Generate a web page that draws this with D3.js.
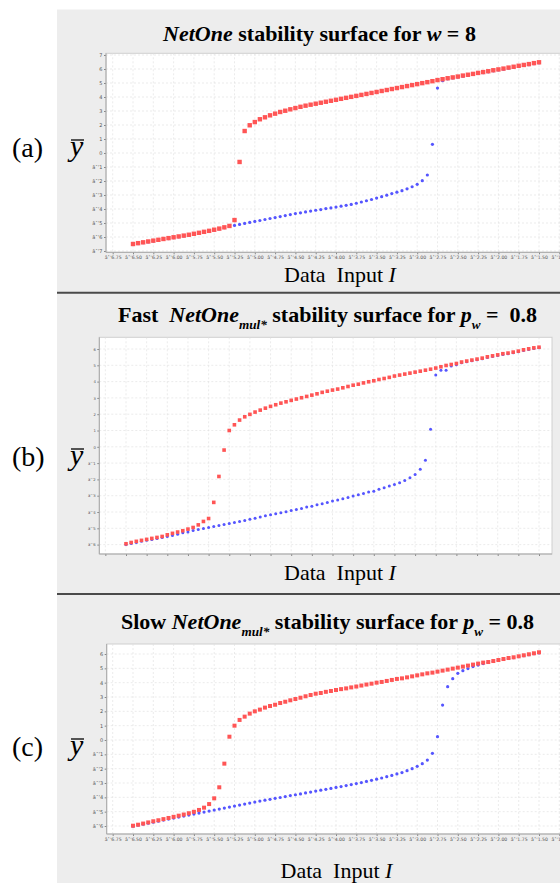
<!DOCTYPE html>
<html>
  <head>
    <title>NetOne stability surfaces</title>
    <style>
      body { margin: 0; background: #fff; }
      text { white-space: pre; }
    </style>
  </head>
  <body>
    <script src="https://cdn.jsdelivr.net/npm/d3@7"></script>
    <script>
      // data input I (sweep points shared by all three panels)
      var INPUT_I = [
        -6.5,-6.4375,-6.375,-6.3125,-6.25,-6.1875,-6.125,-6.0625,
        -6,-5.9375,-5.875,-5.8125,-5.75,-5.6875,-5.625,-5.5625,
        -5.5,-5.4375,-5.375,-5.3125,-5.25,-5.1875,-5.125,-5.0625,
        -5,-4.9375,-4.875,-4.8125,-4.75,-4.6875,-4.625,-4.5625,
        -4.5,-4.4375,-4.375,-4.3125,-4.25,-4.1875,-4.125,-4.0625,
        -4,-3.9375,-3.875,-3.8125,-3.75,-3.6875,-3.625,-3.5625,
        -3.5,-3.4375,-3.375,-3.3125,-3.25,-3.1875,-3.125,-3.0625,
        -3,-2.9375,-2.875,-2.8125,-2.75,-2.6875,-2.625,-2.5625,
        -2.5,-2.4375,-2.375,-2.3125,-2.25,-2.1875,-2.125,-2.0625,
        -2,-1.9375,-1.875,-1.8125,-1.75,-1.6875,-1.625,-1.5625,
        -1.5
      ];

      // (a) NetOne, w = 8
      var A_RED = [
        -6.50,-6.44,-6.38,-6.32,-6.26,-6.20,-6.14,-6.08,-6.02,-5.96,-5.90,-5.84,-5.77,-5.70,-5.63,-5.56,-5.48,-5.40,-5.31,-5.21,
        -4.79,-0.64,1.57,1.98,2.21,2.41,2.55,2.69,2.81,2.93,3.02,3.12,3.21,3.30,3.38,3.45,3.52,3.59,3.66,3.73,
        3.80,3.87,3.94,4.01,4.08,4.15,4.22,4.29,4.36,4.43,4.50,4.57,4.64,4.71,4.78,4.85,4.92,4.99,5.06,5.13,
        5.21,5.27,5.34,5.40,5.46,5.53,5.59,5.65,5.72,5.78,5.84,5.91,5.97,6.03,6.10,6.16,6.23,6.29,6.35,6.42,6.48
      ];
      var A_BLUE = [
        -6.53,-6.47,-6.41,-6.35,-6.29,-6.23,-6.17,-6.11,-6.05,-5.99,-5.93,-5.87,-5.80,-5.73,-5.66,-5.59,-5.51,-5.43,-5.34,-5.25,
        -5.17,-5.10,-5.03,-4.96,-4.89,-4.82,-4.75,-4.68,-4.61,-4.54,-4.47,-4.40,-4.33,-4.27,-4.21,-4.15,-4.09,-4.04,-3.97,-3.92,
        -3.86,-3.80,-3.74,-3.67,-3.59,-3.50,-3.41,-3.32,-3.22,-3.12,-3.01,-2.90,-2.80,-2.69,-2.56,-2.41,-2.24,-1.98,-1.57,0.62,
        4.64,5.16,5.30,5.36,5.42,5.49,5.55,5.61,5.68,5.74,5.80,5.87,5.93,5.99,6.06,6.12,6.19,6.25,6.31,6.38,6.44
      ];

      // (b) Fast NetOne_mul*, p_w = 0.8
      var B_RED = [
        -5.95,-5.87,-5.80,-5.74,-5.68,-5.62,-5.56,-5.50,-5.40,-5.31,-5.23,-5.15,-5.05,-4.95,-4.79,-4.58,-4.40,-3.41,-1.82,-0.20,
        1.00,1.35,1.64,1.84,1.99,2.13,2.25,2.37,2.48,2.58,2.68,2.76,2.85,2.93,3.01,3.09,3.17,3.25,3.34,3.41,
        3.48,3.54,3.62,3.70,3.78,3.84,3.92,3.99,4.05,4.13,4.19,4.26,4.34,4.40,4.46,4.52,4.58,4.64,4.70,4.76,
        4.83,4.91,4.99,5.05,5.11,5.20,5.26,5.32,5.38,5.44,5.52,5.58,5.64,5.71,5.75,5.81,5.87,5.95,6.01,6.07,6.11
      ];
      var B_BLUE = [
        -5.99,-5.93,-5.87,-5.80,-5.74,-5.68,-5.62,-5.56,-5.50,-5.44,-5.36,-5.28,-5.22,-5.13,-5.07,-5.01,-4.95,-4.89,-4.83,-4.76,
        -4.70,-4.64,-4.58,-4.52,-4.44,-4.38,-4.31,-4.23,-4.17,-4.11,-4.05,-3.99,-3.91,-3.84,-3.78,-3.70,-3.64,-3.56,-3.50,-3.41,
        -3.33,-3.27,-3.19,-3.11,-3.02,-2.94,-2.86,-2.78,-2.72,-2.61,-2.51,-2.41,-2.31,-2.21,-2.06,-1.90,-1.70,-1.37,-0.82,1.07,
        4.40,4.69,4.69,4.95,5.03,5.15,5.22,5.28,5.34,5.40,5.48,5.54,5.60,5.67,5.71,5.77,5.83,5.91,5.97,6.03,6.07
      ];

      // (c) Slow NetOne_mul*, p_w = 0.8
      var C_RED = [
        -5.98,-5.91,-5.83,-5.75,-5.67,-5.60,-5.52,-5.44,-5.36,-5.28,-5.20,-5.11,-5.01,-4.88,-4.72,-4.47,-4.07,-3.30,-1.65,0.23,
        1.00,1.40,1.63,1.84,2.00,2.12,2.26,2.37,2.46,2.58,2.67,2.77,2.86,2.95,3.05,3.14,3.23,3.28,3.36,3.42,
        3.49,3.55,3.60,3.67,3.73,3.80,3.87,3.93,4.00,4.05,4.12,4.19,4.26,4.30,4.37,4.44,4.51,4.58,4.65,4.70,
        4.77,4.84,4.91,4.98,5.05,5.12,5.19,5.26,5.33,5.40,5.44,5.51,5.58,5.65,5.72,5.77,5.84,5.91,5.98,6.05,6.12
      ];
      var C_BLUE = [
        -6.01,-5.94,-5.87,-5.80,-5.73,-5.66,-5.59,-5.52,-5.45,-5.38,-5.31,-5.24,-5.17,-5.10,-5.03,-4.96,-4.89,-4.82,-4.75,-4.68,
        -4.61,-4.54,-4.47,-4.40,-4.33,-4.26,-4.20,-4.14,-4.07,-4.01,-3.95,-3.88,-3.82,-3.76,-3.69,-3.63,-3.56,-3.50,-3.44,-3.38,
        -3.31,-3.25,-3.18,-3.11,-3.04,-2.97,-2.89,-2.81,-2.73,-2.65,-2.56,-2.47,-2.37,-2.27,-2.14,-2.00,-1.84,-1.65,-1.40,-0.93,
        0.23,2.44,3.72,4.28,4.65,4.84,4.98,5.12,5.23,5.33,5.42,5.49,5.56,5.63,5.70,5.74,5.82,5.88,5.95,6.02,6.07
      ];

      var X_TICKS = [-6.75,-6.5,-6.25,-6,-5.75,-5.5,-5.25,-5,-4.75,-4.5,-4.25,-4,-3.75,-3.5,-3.25,-3,-2.75,-2.5,-2.25,-2,-1.75,-1.5,-1.25];
      var A_Y_TICKS = [-7,-6,-5,-4,-3,-2,-1,0,1,2,3,4,5,6,7];
      var BC_Y_TICKS = [-6,-5,-4,-3,-2,-1,0,1,2,3,4,5,6];

      var serif = "'Liberation Serif', 'Times New Roman', serif";
      var RED = '#ff5555', BLUE = '#5555ff';

      var w = 560, h = 883;
      var svg = d3.select('body').append('svg').attr('width', w).attr('height', h);

      // grey frame and separators
      svg.append('rect').attr('x', 57).attr('y', 9.5).attr('width', w - 57).attr('height', h - 9.5).attr('fill', '#ededed');
      [292.7, 594].forEach(function(yy) {
        svg.append('line').attr('x1', 57).attr('x2', w).attr('y1', yy).attr('y2', yy)
          .attr('stroke', '#4a4a4a').attr('stroke-width', 2);
      });

      function richText(cx, base, size, parts) {
        var t = svg.append('text').attr('x', cx).attr('y', base).attr('text-anchor', 'middle')
          .attr('font-family', serif).attr('font-weight', 'bold').attr('font-size', size).attr('fill', '#000');
        var cur = 0;
        parts.forEach(function(p) {
          var target = p.sub ? 7 : 0;
          var ts = t.append('tspan').text(p.t).attr('dy', target - cur);
          cur = target;
          if (p.i) ts.attr('font-style', 'italic');
          if (p.sub) ts.attr('font-size', size * 0.6);
        });
      }

      function sideLabels(letter, base) {
        svg.append('text').attr('x', 12).attr('y', base).attr('font-family', serif)
          .attr('font-size', 28).text('(' + letter + ')');
        svg.append('text').attr('x', 70).attr('y', base - 1).attr('font-family', serif)
          .attr('font-style', 'italic').attr('font-size', 30).text('y');
        svg.append('line').attr('x1', 71).attr('x2', 84).attr('y1', base - 17).attr('y2', base - 17)
          .attr('stroke', '#000').attr('stroke-width', 1.3);
      }

      function xLabel(cx, base) {
        var t = svg.append('text').attr('x', cx).attr('y', base).attr('text-anchor', 'middle')
          .attr('font-family', serif).attr('font-size', 22);
        t.append('tspan').text('Data  Input ');
        t.append('tspan').attr('font-style', 'italic').text('I');
      }

      function panel(p) {
        var g = svg.append('g');
        var x = d3.scaleLinear().domain(p.xDom).range(p.xRange);
        var y = d3.scaleLinear().domain(p.yDom).range(p.yRange);
        var L = p.box[0], T = p.box[1], R = p.box[2], B = p.box[3];

        g.append('rect').attr('x', L).attr('y', T).attr('width', R - L).attr('height', B - T)
          .attr('fill', '#fff').attr('stroke', '#d0d0d0').attr('stroke-width', 1);

        var xt = p.xTicks.filter(function(d) { return x(d) > L && x(d) < R; });
        g.selectAll('line.vg').data(xt).join('line').attr('class', 'vg')
          .attr('x1', function(d) { return x(d); }).attr('x2', function(d) { return x(d); })
          .attr('y1', T).attr('y2', B)
          .attr('stroke', '#dedede').attr('stroke-width', 0.6).attr('stroke-dasharray', '2,2');
        g.selectAll('line.hg').data(p.yTicks).join('line').attr('class', 'hg')
          .attr('x1', L).attr('x2', R)
          .attr('y1', function(d) { return y(d); }).attr('y2', function(d) { return y(d); })
          .attr('stroke', '#dedede').attr('stroke-width', 0.6).attr('stroke-dasharray', '2,2');

        var ya = g.append('g').attr('transform', 'translate(' + L + ',0)')
          .call(d3.axisLeft(y).tickValues(p.yTicks).tickSizeInner(2).tickSizeOuter(0).tickPadding(1.5)
            .tickFormat(d3.format('d')));
        ya.select('.domain').remove();
        ya.selectAll('text').attr('font-size', p.yFont).attr('font-family', 'DejaVu Sans, sans-serif').attr('fill', '#555');
        ya.selectAll('line').attr('stroke', '#888');

        var xa = g.append('g').attr('transform', 'translate(0,' + B + ')')
          .call(d3.axisBottom(x).tickValues(xt).tickSizeInner(2).tickSizeOuter(0).tickPadding(1.5)
            .tickFormat(p.xLabels ? d3.format('.2f') : ''));
        xa.select('.domain').remove();
        xa.selectAll('text').attr('font-size', 4.6).attr('font-family', 'DejaVu Sans, sans-serif').attr('fill', '#555');
        xa.selectAll('line').attr('stroke', '#888');

        g.append('line').attr('x1', L).attr('x2', L).attr('y1', T).attr('y2', B).attr('stroke', '#a8a8a8');
        g.append('line').attr('x1', L).attr('x2', R).attr('y1', B).attr('y2', B).attr('stroke', '#a8a8a8');

        g.selectAll('circle.b').data(p.blue).join('circle').attr('class', 'b')
          .attr('cx', function(d, i) { return x(INPUT_I[i]); })
          .attr('cy', function(d) { return y(d); })
          .attr('r', p.blueR).attr('fill', BLUE);
        g.selectAll('rect.r').data(p.red).join('rect').attr('class', 'r')
          .attr('x', function(d, i) { return x(INPUT_I[i]) - p.redS / 2; })
          .attr('y', function(d) { return y(d) - p.redS / 2; })
          .attr('width', p.redS).attr('height', p.redS).attr('fill', RED);
      }

      // (a)
      richText(319.5, 41, 22, [
        { t: 'NetOne', i: true }, { t: ' stability surface for ' }, { t: 'w', i: true }, { t: ' = 8' }
      ]);
      panel({
        box: [106, 53.3, 580, 252.3], xDom: [-6.75, -1.25], xRange: [112.7, 559.3],
        yDom: [7, -7], yRange: [55, 251], xTicks: X_TICKS, yTicks: A_Y_TICKS,
        xLabels: true, yFont: 5, red: A_RED, blue: A_BLUE, redS: 4.4, blueR: 1.6
      });
      sideLabels('a', 157);
      xLabel(340, 282);

      // (b)
      richText(327.5, 322, 22, [
        { t: 'Fast  ' }, { t: 'NetOne', i: true }, { t: 'mul*', i: true, sub: true },
        { t: ' stability surface for ' }, { t: 'p', i: true }, { t: 'w', i: true, sub: true }, { t: ' =  0.8' }
      ]);
      panel({
        box: [99.3, 337.3, 552, 554], xDom: [-6.5, -1.5], xRange: [126, 539],
        yDom: [6, -6], yRange: [349, 544.6], xTicks: X_TICKS, yTicks: BC_Y_TICKS,
        xLabels: false, yFont: 3.8, red: B_RED, blue: B_BLUE, redS: 3.6, blueR: 1.5
      });
      sideLabels('b', 466);
      xLabel(340, 580);

      // (c)
      richText(327.5, 629, 22, [
        { t: 'Slow ' }, { t: 'NetOne', i: true }, { t: 'mul*', i: true, sub: true },
        { t: ' stability surface for ' }, { t: 'p', i: true }, { t: 'w', i: true, sub: true }, { t: ' = 0.8' }
      ]);
      panel({
        box: [106.7, 644, 580, 834], xDom: [-6.75, -1.25], xRange: [112.7, 559.3],
        yDom: [6, -6], yRange: [654, 826], xTicks: X_TICKS, yTicks: BC_Y_TICKS,
        xLabels: true, yFont: 5, red: C_RED, blue: C_BLUE, redS: 4.0, blueR: 1.6
      });
      sideLabels('c', 756);
      xLabel(336.5, 878);
    </script>
  </body>
</html>
